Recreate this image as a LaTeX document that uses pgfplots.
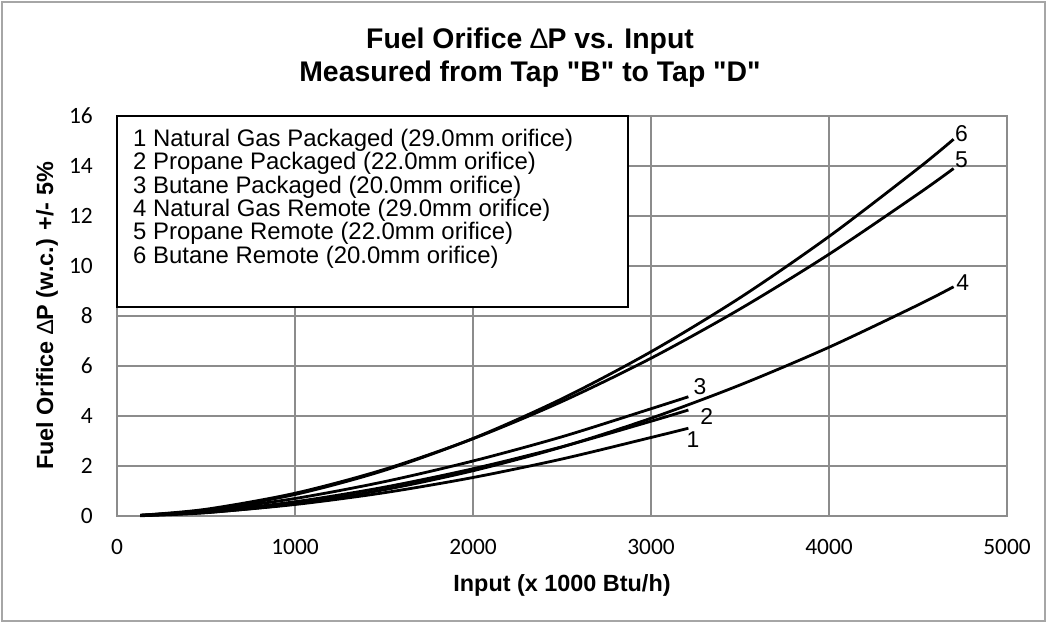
\documentclass[border=0pt]{standalone}
\usepackage{fontspec}
\setmainfont{Liberation Sans}
\newfontfamily\arial{Liberation Sans}
\newfontfamily\carlito{Carlito}
\usepackage{pgfplots}
\pgfplotsset{compat=1.18}
\definecolor{gridgray}{HTML}{8C8C8C}
\definecolor{bordergray}{HTML}{A6A6A6}
\begin{document}
\begin{tikzpicture}
\path[use as bounding box] (-117bp,-107bp) rectangle (930bp,516bp);
\draw[bordergray, line width=1.5bp] (-115bp,-105bp) rectangle (928bp,514bp);
\begin{axis}[
  at={(0,0)}, anchor=south west,
  scale only axis, width=890bp, height=400bp,
  xmin=0, xmax=5000, ymin=0, ymax=16,
  xtick={0,1000,2000,3000,4000,5000}, ytick={0,2,4,6,8,10,12,14,16},
  grid=major, major grid style={gridgray, line width=1.5bp},
  axis line style={gridgray, line width=1.5bp},
  major tick length=0pt,
  scaled x ticks=false,
  /pgf/number format/1000 sep={},
  /pgf/number format/assume math mode=true,
  tick label style={font=\carlito\fontsize{23.5}{24}\selectfont, inner sep=0pt},
  xticklabel style={anchor=north, yshift=-23bp},
  yticklabel style={anchor=east, xshift=-24bp},
  xlabel={Input (x 1000 Btu/h)},
  ylabel={Fuel Orifice {\mdseries ∆}P (w.c.) +/- 5\%},
  every axis x label/.style={at={(rel axis cs:0.5,0)}, anchor=base, yshift=-75.7bp, font=\arial\bfseries\fontsize{23.5}{24}\selectfont, inner sep=0pt},
  every axis y label/.style={at={(rel axis cs:-0.0787,0.5)}, anchor=center, rotate=90, font=\arial\bfseries\fontsize{23.5}{24}\selectfont, inner sep=0pt},
  every axis plot post/.style={black, solid, line width=2.8bp, smooth, mark=none},
  clip=false,
]
% 1 Natural Gas Packaged
\addplot coordinates {(130,0.02) (500,0.14) (1000,0.46) (1500,0.93) (2000,1.54) (2500,2.28) (3000,3.14) (3210,3.51)};
% 2 Propane Packaged
\addplot coordinates {(130,0.02) (500,0.17) (1000,0.57) (1500,1.15) (2000,1.89) (2500,2.77) (3000,3.79) (3210,4.24)};
% 3 Butane Packaged
\addplot coordinates {(130,0.03) (500,0.22) (1000,0.70) (1500,1.37) (2000,2.20) (2500,3.17) (3000,4.29) (3210,4.77)};
% 4 Natural Gas Remote
\addplot coordinates {(130,0.01) (500,0.13) (1000,0.49) (1500,1.05) (2000,1.81) (2500,2.76) (3000,3.91) (3500,5.24) (4000,6.75) (4500,8.44) (4700,9.17)};
% 5 Propane Remote
\addplot coordinates {(130,0.03) (500,0.27) (1000,0.91) (1500,1.86) (2000,3.09) (2500,4.58) (3000,6.31) (3500,8.28) (4000,10.47) (4500,12.88) (4700,13.90)};
% 6 Butane Remote
\addplot coordinates {(130,0.02) (500,0.24) (1000,0.86) (1500,1.82) (2000,3.10) (2500,4.69) (3000,6.57) (3500,8.73) (4000,11.18) (4500,13.90) (4700,15.07)};
\begin{scope}[every node/.style={font=\arial\fontsize{23}{24}\selectfont, inner sep=0pt}]
\node at (axis cs:3236,3.04) {1};
\node at (axis cs:3313,3.97) {2};
\node at (axis cs:3275,5.17) {3};
\node at (axis cs:4751,9.35) {4};
\node at (axis cs:4745,14.27) {5};
\node at (axis cs:4745,15.28) {6};
\end{scope}
\end{axis}
% legend box
\draw[black, line width=1.5bp, fill=white] (0,209bp) rectangle (511bp,400bp);
\begin{scope}[every node/.style={font=\arial\fontsize{24}{24}\selectfont, inner sep=0pt, anchor=base west}]
\node at (16bp,369.3bp) {1 Natural Gas Packaged (29.0mm orifice)};
\node at (16bp,346.0bp) {2 Propane Packaged (22.0mm orifice)};
\node at (16bp,322.7bp) {3 Butane Packaged (20.0mm orifice)};
\node at (16bp,299.4bp) {4 Natural Gas Remote (29.0mm orifice)};
\node at (16bp,276.1bp) {5 Propane Remote (22.0mm orifice)};
\node at (16bp,252.8bp) {6 Butane Remote (20.0mm orifice)};
\end{scope}
% title
\begin{scope}[every node/.style={font=\arial\bfseries\fontsize{28.5}{30}\selectfont, inner sep=0pt, anchor=base}]
\node at (413bp,467.7bp) {Fuel Orifice {\mdseries ∆}P vs. Input};
\node at (413bp,434.3bp) {Measured from Tap "B" to Tap "D"};
\end{scope}
\end{tikzpicture}
\end{document}
